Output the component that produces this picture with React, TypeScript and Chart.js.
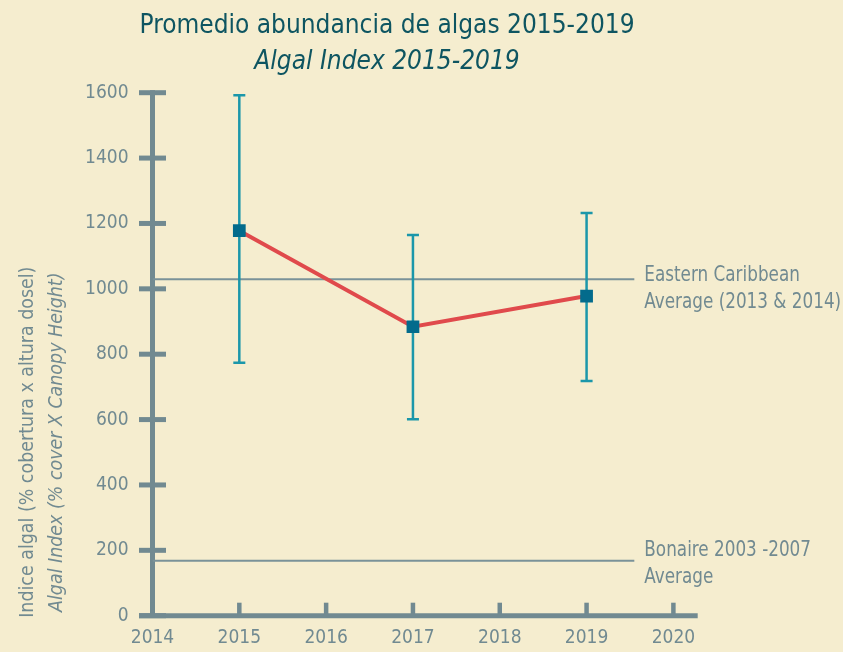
import React, { useEffect, useRef } from 'react';
import { Chart, registerables } from 'chart.js';

Chart.register(...registerables);

// ---- data ----
const years = [2015, 2017, 2019];
const algalIndex = [1178, 884, 978];
const errLow = [774, 601, 718];
const errHigh = [1592, 1165, 1232];
const easternAvg = 1029;
const bonaireAvg = 168;
const refLineStart = 2014;
const refLineEnd = 2019.55;
const xTicks = [2014, 2015, 2016, 2017, 2018, 2019, 2020];
const yTicks = [0, 200, 400, 600, 800, 1000, 1200, 1400, 1600];
const easternLabel = ['Eastern Caribbean', 'Average (2013 & 2014)'];
const bonaireLabel = ['Bonaire 2003 -2007', 'Average'];
const titleText = 'Promedio abundancia de algas 2015-2019';
const subtitleText = 'Algal Index 2015-2019';
const yTitleLines = ['Indice algal (% cobertura x altura dosel)', 'Algal Index (% cover X Canopy Height)'];

// ---- style ----
const FONT = "'Liberation Sans Narrow', 'DejaVu Sans Condensed', 'Roboto', sans-serif";
const BG = '#f5edcf';
const AXIS = '#718a91';
const TEXT = '#718a91';
const TITLE = '#0e5561';
const ERR = '#1b97aa';
const MARK = '#036b8c';
const LINE = '#e04a4c';
const REF = '#7a9299';

function condensedText(ctx: any, text: string, x: number, y: number, sx: number) {
  ctx.save();
  ctx.translate(x, y);
  ctx.scale(sx, 1);
  ctx.fillText(text, 0, 0);
  ctx.restore();
}

const decorPlugin = {
  id: 'decor',
  beforeDatasetsDraw(chart: any) {
    const { ctx, chartArea, scales } = chart;
    const x = scales.x;
    const y = scales.y;
    ctx.save();
    ctx.strokeStyle = AXIS;
    ctx.lineCap = 'butt';
    // y axis line
    ctx.lineWidth = 5;
    ctx.beginPath();
    ctx.moveTo(chartArea.left, y.getPixelForValue(yTicks[yTicks.length - 1]) - 2.5);
    ctx.lineTo(chartArea.left, chartArea.bottom);
    ctx.stroke();
    // y ticks (both sides)
    yTicks.forEach((v) => {
      const py = y.getPixelForValue(v);
      ctx.beginPath();
      ctx.moveTo(chartArea.left - 13.5, py);
      ctx.lineTo(chartArea.left + 13.5, py);
      ctx.stroke();
    });
    // x axis line
    ctx.beginPath();
    ctx.moveTo(chartArea.left - 13.5, chartArea.bottom);
    ctx.lineTo(chartArea.right, chartArea.bottom);
    ctx.stroke();
    // x ticks (upwards)
    ctx.lineWidth = 4.5;
    xTicks.forEach((v) => {
      const px = x.getPixelForValue(v);
      ctx.beginPath();
      ctx.moveTo(px, chartArea.bottom);
      ctx.lineTo(px, chartArea.bottom - 13);
      ctx.stroke();
    });
    // y axis title (two lines, rotated)
    ctx.fillStyle = TEXT;
    ctx.textAlign = 'center';
    ctx.textBaseline = 'middle';
    const cy = (chartArea.top + chartArea.bottom) / 2 + 88;
    ctx.save();
    ctx.translate(28, cy);
    ctx.rotate(-Math.PI / 2);
    ctx.font = `20px ${FONT}`;
    condensedText(ctx, yTitleLines[0], 0, 0, 0.97);
    ctx.restore();
    ctx.save();
    ctx.translate(57, cy);
    ctx.rotate(-Math.PI / 2);
    ctx.font = `italic 20px ${FONT}`;
    condensedText(ctx, yTitleLines[1], 0, 0, 0.97);
    ctx.restore();
    ctx.restore();
  },
  beforeDatasetDraw(chart: any, args: any) {
    if (args.index !== 0) return;
    const { ctx, scales } = chart;
    const x = scales.x;
    const y = scales.y;
    ctx.save();
    ctx.strokeStyle = ERR;
    ctx.lineWidth = 2.5;
    years.forEach((yr, i) => {
      const px = x.getPixelForValue(yr);
      const lo = y.getPixelForValue(errLow[i]);
      const hi = y.getPixelForValue(errHigh[i]);
      ctx.beginPath();
      ctx.moveTo(px, lo);
      ctx.lineTo(px, hi);
      ctx.moveTo(px - 6, lo);
      ctx.lineTo(px + 6, lo);
      ctx.moveTo(px - 6, hi);
      ctx.lineTo(px + 6, hi);
      ctx.stroke();
    });
    ctx.restore();
  },
  afterDatasetsDraw(chart: any) {
    const { ctx, scales } = chart;
    const x = scales.x;
    const y = scales.y;
    ctx.save();
    ctx.fillStyle = TEXT;
    ctx.font = `22px ${FONT}`;
    ctx.textAlign = 'left';
    ctx.textBaseline = 'middle';
    const lx = x.getPixelForValue(refLineEnd) + 10;
    const sx = 0.85;
    const ey = y.getPixelForValue(easternAvg);
    condensedText(ctx, easternLabel[0], lx, ey - 4, sx);
    condensedText(ctx, easternLabel[1], lx, ey + 23, sx);
    const by = y.getPixelForValue(bonaireAvg);
    condensedText(ctx, bonaireLabel[0], lx, by - 11, sx);
    condensedText(ctx, bonaireLabel[1], lx, by + 16, sx);
    ctx.restore();
  },
};

export default function App() {
  const ref = useRef<HTMLCanvasElement | null>(null);
  useEffect(() => {
    if (!ref.current) return;
    const chart = new Chart(ref.current, {
      type: 'line',
      data: {
        datasets: [
          {
            label: 'Algal Index',
            data: years.map((yr, i) => ({ x: yr, y: algalIndex[i] })),
            borderColor: LINE,
            borderWidth: 4,
            pointStyle: 'rect',
            pointRadius: 9,
            pointBackgroundColor: MARK,
            pointBorderWidth: 0,
            pointBorderColor: MARK,
            tension: 0,
            order: 1,
          },
          {
            label: 'Eastern Caribbean',
            data: [
              { x: refLineStart, y: easternAvg },
              { x: refLineEnd, y: easternAvg },
            ],
            borderColor: REF,
            borderWidth: 2,
            pointRadius: 0,
            order: 3,
          },
          {
            label: 'Bonaire',
            data: [
              { x: refLineStart, y: bonaireAvg },
              { x: refLineEnd, y: bonaireAvg },
            ],
            borderColor: REF,
            borderWidth: 2,
            pointRadius: 0,
            order: 3,
          },
        ],
      },
      options: {
        animation: false,
        responsive: false,
        layout: { padding: { left: 76.3, right: 145.3, top: 0, bottom: 0 } },
        plugins: {
          legend: { display: false },
          tooltip: { enabled: false },
          title: {
            display: true,
            text: titleText,
            color: TITLE,
            font: { family: FONT, size: 26, weight: 'normal', lineHeight: 1.2 },
            padding: { top: 11.1, bottom: 0 },
          },
          subtitle: {
            display: true,
            text: subtitleText,
            color: TITLE,
            font: { family: FONT, size: 26, style: 'italic', weight: 'normal', lineHeight: 1.2 },
            padding: { top: 4.2, bottom: 15 },
          },
        },
        scales: {
          x: {
            type: 'linear',
            min: 2014,
            max: 2020.28,
            grid: { display: false, drawTicks: false },
            border: { display: false },
            ticks: {
              stepSize: 1,
              includeBounds: false,
              color: TEXT,
              font: { family: FONT, size: 19 },
              padding: 11,
              callback: (v: any) => String(v),
            },
            afterFit: (s: any) => {
              s.height = 36.3;
            },
          },
          y: {
            type: 'linear',
            min: 0,
            max: 1600,
            grid: { display: false, drawTicks: false },
            border: { display: false },
            ticks: {
              stepSize: 200,
              color: TEXT,
              font: { family: FONT, size: 19 },
              padding: 24,
              callback: (v: any) => String(v),
            },
            afterFit: (s: any) => {
              s.width = 76.2;
            },
          },
        },
      },
      plugins: [decorPlugin],
    });
    return () => chart.destroy();
  }, []);
  return (
    <div style={{ position: 'fixed', left: 0, top: 0, width: 843, height: 652, background: BG }}>
      <canvas ref={ref} width={843} height={652} style={{ display: 'block', width: 843, height: 652 }} />
    </div>
  );
}
